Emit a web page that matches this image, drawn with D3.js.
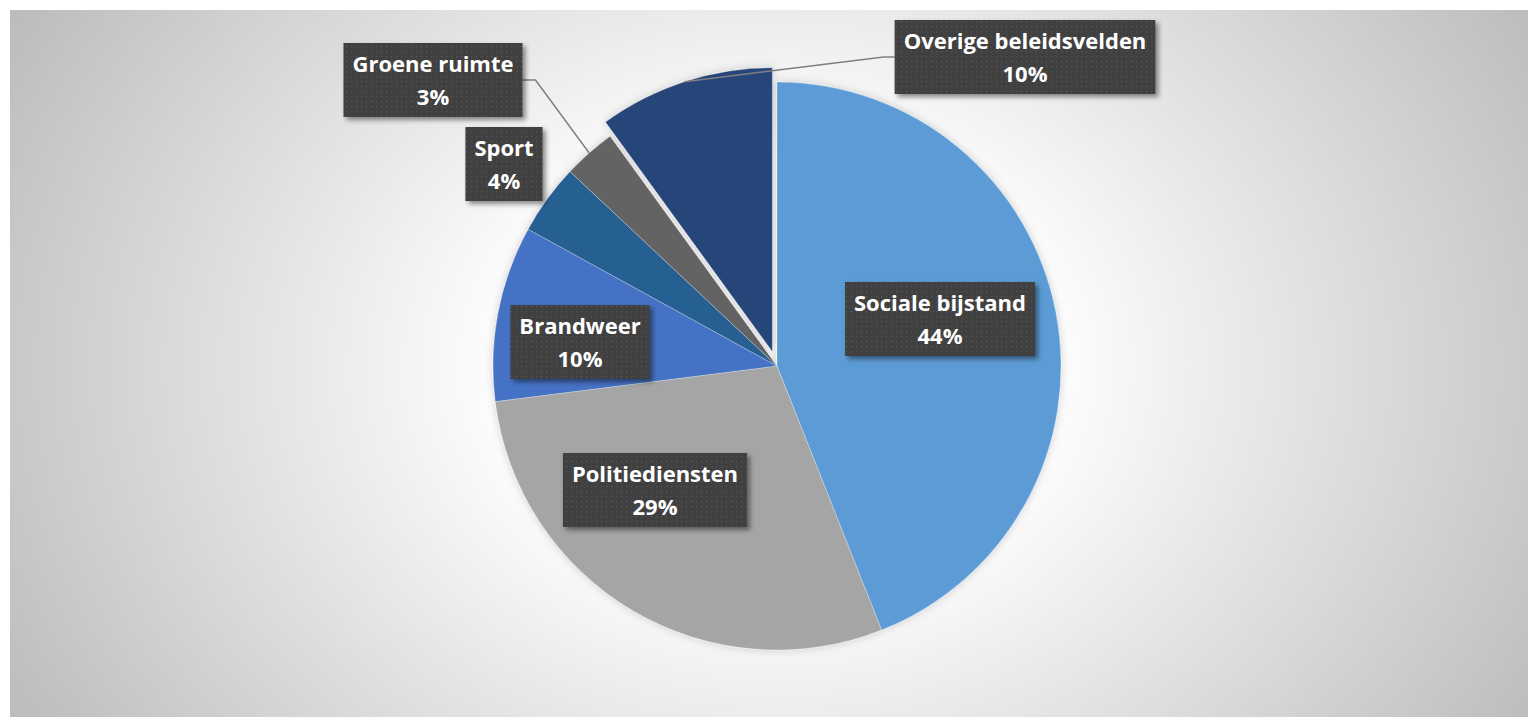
<!DOCTYPE html>
<html>
<head>
<meta charset="utf-8">
<script src="https://cdn.jsdelivr.net/npm/d3@7"></script>
<style>
html,body{margin:0;padding:0;background:#fff;}
svg{display:block;}
</style>
</head>
<body>
<svg id="chart" width="1528" height="717"></svg>
<script>
// ---- data ----
const categories = ["Sociale bijstand","Politiediensten","Brandweer","Sport","Groene ruimte","Overige beleidsvelden"];
const values = [44, 29, 10, 4, 3, 10];
const percentLabels = ["44%","29%","10%","4%","3%","10%"];
const colors = ["#5B9BD5","#A5A5A5","#4472C4","#255E91","#636363","#264478"];
const exploded = [0,0,0,0,0,15];
// label box centres (layout) and whether a leader line is drawn
const labelCenters = [[940,319],[655,490],[580,342],[504,164],[433,80],[1025,57]];
const leader = [false,false,false,false,true,true];

const W = 1528, H = 717;
const cx = 777, cy = 366, R = 284;
const svg = d3.select("#chart");
const defs = svg.append("defs");

const bg = defs.append("radialGradient").attr("id","bg")
  .attr("gradientUnits","userSpaceOnUse")
  .attr("cx",cx).attr("cy",cy).attr("r",880)
  .attr("gradientTransform",`translate(${cx},${cy}) scale(1,0.8) translate(${-cx},${-cy})`);
bg.append("stop").attr("offset","0").attr("stop-color","#ffffff");
bg.append("stop").attr("offset","0.3").attr("stop-color","#ffffff");
bg.append("stop").attr("offset","1").attr("stop-color","#bcbcbc");

const pat = defs.append("pattern").attr("id","dots").attr("patternUnits","userSpaceOnUse")
  .attr("width",5).attr("height",5);
pat.append("rect").attr("width",5).attr("height",5).attr("fill","#3f3f3f");
pat.append("rect").attr("x",1).attr("y",1).attr("width",1.3).attr("height",1.3).attr("fill","#545454");

const sh = defs.append("filter").attr("id","shadow").attr("x","-20%").attr("y","-20%").attr("width","140%").attr("height","150%");
sh.append("feDropShadow").attr("dx",3).attr("dy",3).attr("stdDeviation",2.5)
  .attr("flood-color","#000").attr("flood-opacity",0.45);

const glow = defs.append("filter").attr("id","glow").attr("x","-10%").attr("y","-10%").attr("width","120%").attr("height","120%");
glow.append("feDropShadow").attr("dx",0).attr("dy",0).attr("stdDeviation",4)
  .attr("flood-color","#000").attr("flood-opacity",0.18);

svg.append("rect").attr("x",10).attr("y",10).attr("width",W-10).attr("height",H-10)
  .attr("fill","url(#bg)");

const data = categories.map((c,i)=>({name:c,value:values[i],pct:percentLabels[i],color:colors[i],ex:exploded[i],pos:labelCenters[i],leader:leader[i]}));
const pie = d3.pie().value(d=>d.value).sort(null);
const arcs = pie(data);
const arc = d3.arc().innerRadius(0).outerRadius(R);

const g = svg.append("g").attr("transform",`translate(${cx},${cy})`).attr("filter","url(#glow)");
function offset(a){
  const m = (a.startAngle+a.endAngle)/2;
  return [Math.sin(m)*a.data.ex, -Math.cos(m)*a.data.ex];
}
g.selectAll("path.slice").data(arcs).enter().append("path")
  .attr("class","slice")
  .attr("d",arc)
  .attr("transform",d=>{const o=offset(d);return `translate(${o[0]},${o[1]})`;})
  .attr("fill",d=>d.data.color)
  .attr("stroke","#ffffff").attr("stroke-opacity",0.35).attr("stroke-width",0.8);

const labels = svg.append("g");
const lines = labels.append("g");
arcs.forEach(a=>{
  const [lx,ly] = a.data.pos;
  const lg = labels.append("g");
  const font = "'Open Sans', Lato, sans-serif";
  const fs = 22;
  const t1 = lg.append("text").attr("x",lx).attr("y",ly-8).attr("text-anchor","middle")
    .attr("font-family",font).attr("font-weight","bold")
    .attr("font-size",fs).attr("fill","#ffffff").text(a.data.name);
  const t2 = lg.append("text").attr("x",lx).attr("y",ly+25).attr("text-anchor","middle")
    .attr("font-family",font).attr("font-weight","bold")
    .attr("font-size",fs).attr("fill","#ffffff").text(a.data.pct);
  const w = Math.max(t1.node().getComputedTextLength(), t2.node().getComputedTextLength()) + 18;
  const h = 74;
  lg.insert("rect","text").attr("x",lx-w/2).attr("y",ly-h/2).attr("width",w).attr("height",h)
    .attr("fill","url(#dots)").attr("filter","url(#shadow)");
  if(a.data.leader){
    const o = offset(a);
    const m = (a.startAngle+a.endAngle)/2;
    const px = cx+o[0]+Math.sin(m)*R, py = cy+o[1]-Math.cos(m)*R;
    const right = px < lx;
    const bx = right ? lx - w/2 : lx + w/2;
    const kx = bx + (right ? -11 : 13);
    lines.append("path")
      .attr("d",`M${px},${py}L${kx},${ly}L${bx},${ly}`)
      .attr("fill","none").attr("stroke","#7f7f7f").attr("stroke-width",1.5);
  }
});
</script>
</body>
</html>
